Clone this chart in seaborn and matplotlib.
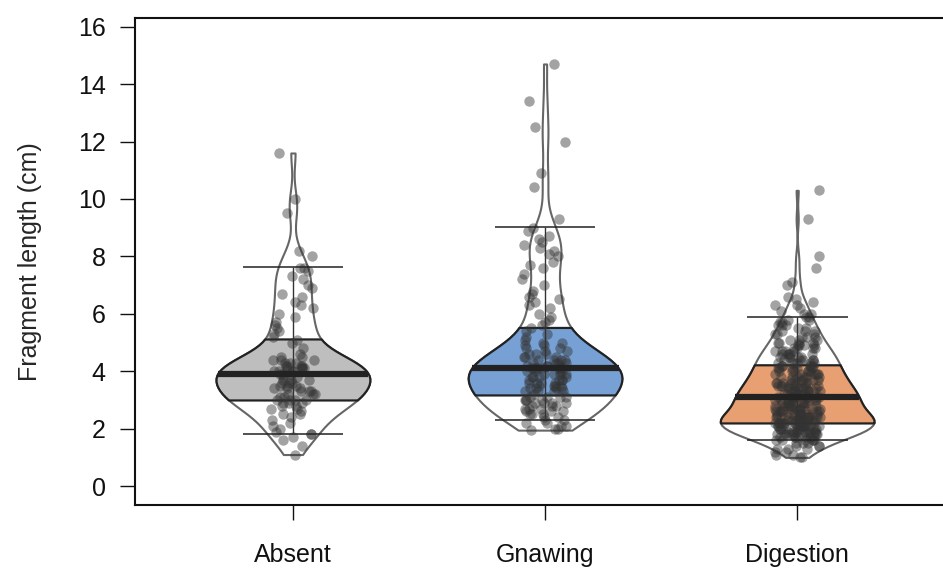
import numpy as np
import pandas as pd
import seaborn as sns
import matplotlib.pyplot as plt

# fragment lengths (cm), one value per point
groups = ['Absent', 'Gnawing', 'Digestion']
fill_colors = ['#bebebe', '#77a1d5', '#e8a073']

absent = [
    1.1, 1.4, 1.6, 1.7, 1.8, 1.8,
    1.9, 2.0, 2.1, 2.2, 2.3, 2.4, 2.5, 2.5, 2.6, 2.7, 2.7, 2.8, 2.8, 2.9, 2.9, 2.9, 3.0, 3.0, 3.0,
    3.0, 3.1, 3.1, 3.2, 3.2, 3.2, 3.3, 3.3, 3.3, 3.4, 3.4, 3.4, 3.5, 3.5, 3.5, 3.6, 3.6, 3.6, 3.7, 3.7,
    3.7, 3.8, 3.8, 3.9, 3.9,
    3.9, 4.0, 4.0, 4.0, 4.0, 4.1, 4.1, 4.1, 4.1, 4.2, 4.2, 4.2, 4.2, 4.3, 4.3, 4.3, 4.4, 4.4, 4.4,
    4.5, 4.5, 4.6, 4.8, 5.0, 5.1,
    5.2, 5.3, 5.4, 5.5, 5.6, 5.7, 5.9, 6.0, 6.2, 6.3, 6.4, 6.6, 6.7, 6.9, 7.0, 7.2, 7.3, 7.5, 7.6,
    7.6, 8.0, 8.2, 9.5, 10.0, 11.6,
]

gnawing = [
    1.95, 2.0, 2.0, 2.1, 2.1, 2.2, 2.2,
    2.3, 2.3, 2.4, 2.4, 2.5, 2.5, 2.5, 2.6, 2.6, 2.6, 2.7, 2.7, 2.7, 2.8, 2.8, 2.8,
    2.9, 2.9, 2.9, 2.9, 3.0, 3.0, 3.0, 3.0, 3.1, 3.1, 3.1, 3.1,
    3.2, 3.3, 3.3, 3.3, 3.3, 3.4, 3.4, 3.4, 3.4, 3.5, 3.5, 3.5, 3.5, 3.6, 3.6, 3.6, 3.6,
    3.7, 3.7, 3.7, 3.7, 3.8, 3.8, 3.8, 3.8, 3.9, 3.9, 3.9, 3.9, 4.0, 4.0, 4.0, 4.0, 4.1, 4.1,
    4.1, 4.1, 4.1, 4.1, 4.2, 4.2, 4.2, 4.2, 4.3, 4.3, 4.3, 4.3, 4.4, 4.4, 4.4, 4.4,
    4.5, 4.5, 4.5, 4.6, 4.6, 4.6, 4.7, 4.7, 4.8, 4.8, 4.9, 4.9, 5.0, 5.0, 5.1, 5.2, 5.3, 5.4, 5.5,
    5.6, 5.7, 5.8, 5.9, 6.0, 6.2, 6.3, 6.4, 6.5, 6.6, 6.7, 6.8, 7.0, 7.2, 7.4, 7.6, 7.7, 7.8, 8.0,
    8.1, 8.2, 8.3, 8.4, 8.5, 8.6, 8.7, 8.9, 9.0,
    9.3, 10.4, 10.9, 12.0, 12.5, 13.4, 14.7,
]

digestion = [
    1.0, 1.0, 1.1, 1.1, 1.2, 1.2, 1.3, 1.3, 1.3, 1.4, 1.4, 1.4, 1.5, 1.5, 1.5,
    1.6, 1.6, 1.6, 1.6, 1.6, 1.6, 1.7, 1.7, 1.7, 1.7, 1.7, 1.7, 1.7,
    1.8, 1.8, 1.8, 1.8, 1.8, 1.8, 1.8, 1.8, 1.9, 1.9, 1.9, 1.9, 1.9, 1.9, 1.9, 1.9, 1.9,
    2.0, 2.0, 2.0, 2.0, 2.0, 2.0, 2.0, 2.0, 2.0, 2.0, 2.1, 2.1, 2.1, 2.1, 2.1, 2.1, 2.1, 2.1, 2.1, 2.1,
    2.2, 2.2, 2.2, 2.2, 2.2, 2.2, 2.2, 2.2, 2.2, 2.2, 2.2, 2.2, 2.2,
    2.3, 2.3, 2.3, 2.3, 2.3, 2.3, 2.3, 2.3, 2.3, 2.3, 2.4, 2.4, 2.4, 2.4, 2.4, 2.4, 2.4, 2.4, 2.4, 2.4,
    2.5, 2.5, 2.5, 2.5, 2.5, 2.5, 2.5, 2.5, 2.5, 2.6, 2.6, 2.6, 2.6, 2.6, 2.6, 2.6, 2.6,
    2.7, 2.7, 2.7, 2.7, 2.7, 2.7, 2.7, 2.7, 2.8, 2.8, 2.8, 2.8, 2.8, 2.8, 2.8, 2.8,
    2.9, 2.9, 2.9, 2.9, 2.9, 2.9, 2.9, 3.0, 3.0, 3.0, 3.0, 3.0, 3.0, 3.0, 3.0, 3.1, 3.1, 3.1, 3.1,
    3.1, 3.1, 3.1, 3.1, 3.1, 3.1, 3.2, 3.2, 3.2, 3.2, 3.2, 3.2, 3.2, 3.3, 3.3, 3.3, 3.3, 3.3, 3.3, 3.3,
    3.4, 3.4, 3.4, 3.4, 3.4, 3.4, 3.4, 3.5, 3.5, 3.5, 3.5, 3.5, 3.5, 3.5, 3.6, 3.6, 3.6, 3.6, 3.6, 3.6, 3.6,
    3.7, 3.7, 3.7, 3.7, 3.7, 3.7, 3.8, 3.8, 3.8, 3.8, 3.8, 3.8, 3.9, 3.9, 3.9, 3.9, 3.9, 3.9,
    4.0, 4.0, 4.0, 4.0, 4.0, 4.0, 4.1, 4.1, 4.1, 4.1, 4.1, 4.2, 4.2, 4.2, 4.2, 4.2,
    4.3, 4.3, 4.3, 4.3, 4.3, 4.3, 4.4, 4.4, 4.4, 4.4, 4.4, 4.5, 4.5, 4.5, 4.5, 4.5, 4.6, 4.6, 4.6, 4.6, 4.6,
    4.7, 4.7, 4.7, 4.7, 4.8, 4.8, 4.8, 4.8, 4.9, 4.9, 4.9, 4.9, 5.0, 5.0, 5.0, 5.0,
    5.1, 5.1, 5.1, 5.2, 5.2, 5.2, 5.3, 5.3, 5.3, 5.4, 5.4, 5.4, 5.5, 5.5, 5.6, 5.6, 5.6, 5.7, 5.7,
    5.8, 5.8, 5.9, 5.9,
    6.0, 6.0, 6.1, 6.2, 6.3, 6.3, 6.4, 6.5, 6.6, 7.0, 7.1, 7.6, 8.0, 9.3, 10.3,
]

series = [absent, gnawing, digestion]
df = pd.DataFrame({
    'group': np.repeat(groups, [len(s) for s in series]),
    'length': absent + gnawing + digestion,
})

sns.set_style('ticks')
plt.rcParams['font.family'] = ['Liberation Sans', 'DejaVu Sans']
np.random.seed(3)

fig = plt.figure(figsize=(9.43, 5.72), dpi=100)
ax = fig.add_axes([0.143, 0.117, 0.87, 0.852])

# outline violins (white), cut at the data range, all same max width
sns.violinplot(data=df, x='group', y='length', order=groups, cut=0, inner=None,
               density_norm='width', width=0.61, bw_adjust=0.65, color='white',
               linecolor='#666666', linewidth=1.5, ax=ax, zorder=1)

for i, vals in enumerate(series):
    verts = ax.collections[i].get_paths()[0].vertices
    right = verts[verts[:, 0] > i]
    order = np.argsort(right[:, 1])
    ys, half = right[order, 1], right[order, 0] - i
    q1, med, q3 = np.percentile(vals, [25, 50, 75])
    lo, hi = np.percentile(vals, [5, 95])

    # interquartile band coloured inside the violin
    yy = np.linspace(q1, q3, 200)
    hw = np.interp(yy, ys, half)
    ax.fill_betweenx(yy, i - hw, i + hw, facecolor=fill_colors[i], edgecolor='#222222',
                     linewidth=1.6, zorder=2)

    # median bar
    hm = np.interp(med, ys, half)
    ax.plot([i - hm, i + hm], [med, med], color='#222222', lw=4.5,
            solid_capstyle='butt', zorder=5)

    # 5th / 95th percentile whiskers
    ax.hlines([lo, hi], i - 0.2, i + 0.2, color='#222222', lw=1.1, zorder=4)
    ax.vlines(i, lo, hi, color='#333333', lw=1, zorder=4)

sns.stripplot(data=df, x='group', y='length', order=groups, color='#333333', alpha=0.45,
              size=7.5, jitter=0.09, linewidth=0, ax=ax, zorder=3)

ax.set_xlim(-0.627, 2.627)
ax.set_ylim(-0.66, 16.31)
ax.set_yticks(range(0, 17, 2))
ax.set_xlabel('')
ax.set_ylabel('Fragment length (cm)', fontsize=18, labelpad=26)
for sp in ax.spines.values():
    sp.set_linewidth(1.5)
    sp.set_color('#111111')
ax.tick_params(axis='both', direction='out', length=11, width=1, colors='#111111',
               labelsize=18)
ax.tick_params(axis='x', pad=16)
ax.tick_params(axis='y', pad=10)

plt.savefig('out.png', dpi=100)
